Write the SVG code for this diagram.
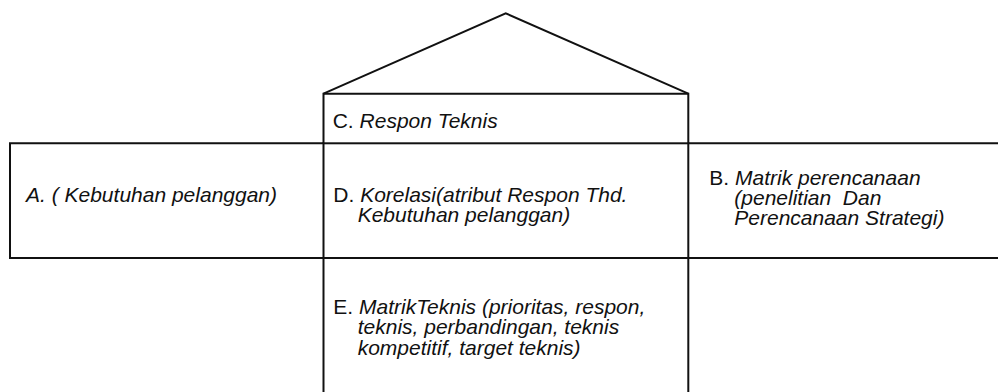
<svg xmlns="http://www.w3.org/2000/svg" width="998" height="392" viewBox="0 0 998 392">
<style>
.ln{fill:none;stroke:#111;stroke-width:2;stroke-linejoin:miter}
text{font-family:"Liberation Sans",Arial,sans-serif;font-size:21px;fill:#111}
.i{font-style:italic}
</style>
<rect width="998" height="392" fill="#fff"/>
<g id="roof">
<polyline class="ln" points="323.5,93.7 505.7,13.3 688.3,93.7"/>
</g>
<g id="node-C">
<polyline class="ln" points="323.5,143.3 323.5,93.7 688.3,93.7 688.3,143.3"/>
<text x="332.7" y="127.7">C. <tspan class="i">Respon Teknis</tspan></text>
</g>
<g id="node-A">
<polyline class="ln" points="323.5,143.3 10,143.3 10,258 323.5,258"/>
<text class="i" x="26" y="201.7">A. ( Kebutuhan pelanggan)</text>
</g>
<g id="node-D">
<rect class="ln" x="323.5" y="143.3" width="364.8" height="114.7"/>
<text x="333.3" y="201.7">D. <tspan class="i">Korelasi(atribut Respon Thd.</tspan></text>
<text class="i" x="357.7" y="221.7">Kebutuhan pelanggan)</text>
</g>
<g id="node-B">
<polyline class="ln" points="688.3,143.3 998,143.3 M688.3,258"/>
<line class="ln" x1="688.3" y1="258" x2="998" y2="258"/>
<text x="709.3" y="185">B. <tspan class="i">Matrik perencanaan</tspan></text>
<text class="i" x="734.3" y="205" xml:space="preserve">(penelitian  Dan</text>
<text class="i" x="734.3" y="225">Perencanaan Strategi)</text>
</g>
<g id="node-E">
<polyline class="ln" points="323.5,258 323.5,393 M688.3,258"/>
<line class="ln" x1="688.3" y1="258" x2="688.3" y2="393"/>
<text x="333.3" y="313.5">E. <tspan class="i">MatrikTeknis (prioritas, respon,</tspan></text>
<text class="i" x="357.7" y="334">teknis, perbandingan, teknis</text>
<text class="i" x="357.7" y="354.5">kompetitif, target teknis)</text>
</g>
<g id="connectors"></g>
</svg>
